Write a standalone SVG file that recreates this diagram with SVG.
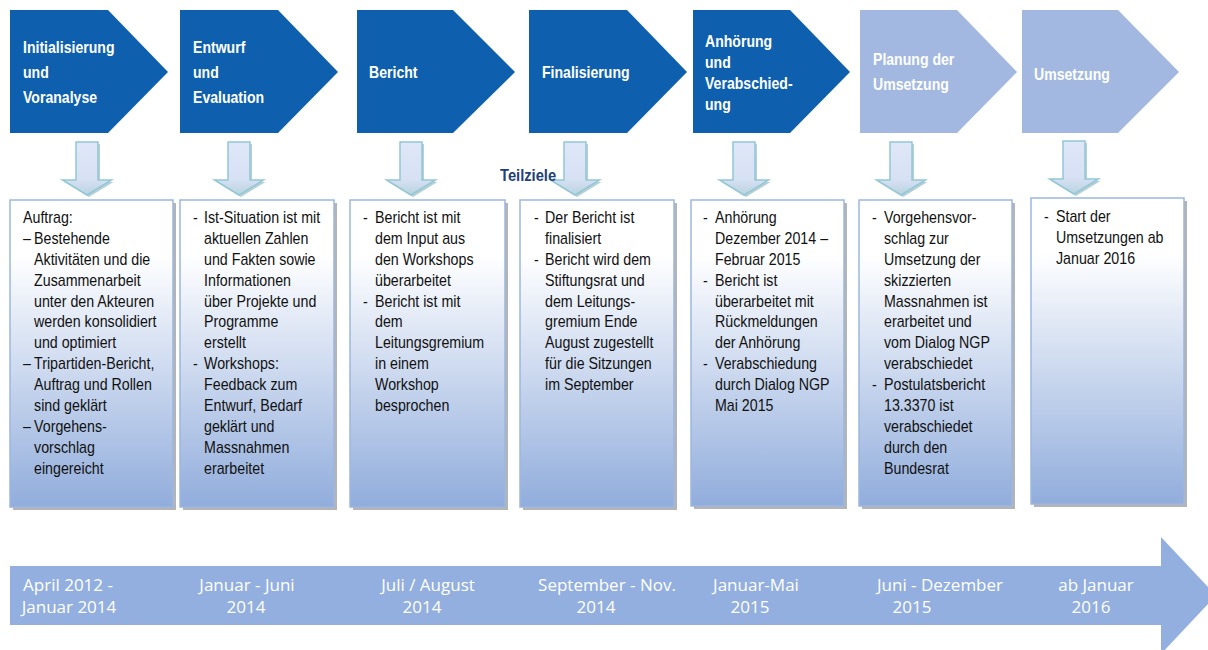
<svg xmlns="http://www.w3.org/2000/svg" width="1208" height="650" viewBox="0 0 1208 650">
<defs>
<linearGradient id="boxGrad" x1="0" y1="0" x2="0" y2="1">
<stop offset="0" stop-color="#ffffff"/>
<stop offset="0.18" stop-color="#ffffff"/>
<stop offset="1" stop-color="#91addc"/>
</linearGradient>
<linearGradient id="arrGrad" x1="0" y1="0" x2="0" y2="1">
<stop offset="0" stop-color="#dfe7f7"/>
<stop offset="0.7" stop-color="#d7e1f4"/>
<stop offset="1" stop-color="#b9d3e0"/>
</linearGradient>
<path id="darr" d="M-11,0 H11 V38 H24.5 L0,53 L-24.5,38 H-11 Z"/>
</defs>
<style>
.dark{fill:#0e5fad}
.light{fill:#a2b8e1}
.ct{font-family:"Liberation Sans",Arial,sans-serif;font-weight:bold;font-size:16px;fill:#ffffff}
.box{fill:url(#boxGrad);stroke:#9cb6df;stroke-width:1.5}
.shadow{fill:#b4b4b4}
.bt{font-family:"Liberation Sans",Arial,sans-serif;font-size:16px;fill:#111111}
.arr{fill:url(#arrGrad);stroke:#93c8d6;stroke-width:1.5}
.arrsh{fill:#a7c3cc;opacity:0.8}
.tl{fill:#93afdf}
.tt{font-family:"Open Sans",sans-serif;font-size:17px;fill:#ffffff;text-anchor:middle}
.tz{font-family:"Liberation Sans",Arial,sans-serif;font-weight:bold;font-size:16px;fill:#1f3f7a}
</style>

<!-- Timeline arrow -->
<g id="timeline">
<path class="tl" d="M10,566 H1161 V537 L1216,595.5 L1161,654 V625 H10 Z"/>
<text class="tt" x="68" y="591">April 2012 -</text>
<text class="tt" x="69" y="613">Januar 2014</text>
<text class="tt" x="247" y="591">Januar - Juni</text>
<text class="tt" x="246" y="613">2014</text>
<text class="tt" x="428" y="591">Juli / August</text>
<text class="tt" x="422" y="613">2014</text>
<text class="tt" x="607" y="591">September - Nov.</text>
<text class="tt" x="596" y="613">2014</text>
<text class="tt" x="756" y="591">Januar-Mai</text>
<text class="tt" x="750" y="613">2015</text>
<text class="tt" x="940" y="591">Juni - Dezember</text>
<text class="tt" x="912" y="613">2015</text>
<text class="tt" x="1096" y="591">ab Januar</text>
<text class="tt" x="1091" y="613">2016</text>
</g>

<!-- Phase chevrons -->
<g id="phase1">
<path class="dark" d="M10,10 H108 L168,72 L108,133 H10 Z"/>
<g transform="translate(23,0) scale(0.88,1)">
<text class="ct" x="0" y="53">Initialisierung</text>
<text class="ct" x="0" y="78">und</text>
<text class="ct" x="0" y="103">Voranalyse</text>
</g>
</g>
<g id="phase2">
<path class="dark" d="M180,10 H278 L338,72 L278,133 H180 Z"/>
<g transform="translate(193,0) scale(0.88,1)">
<text class="ct" x="0" y="53">Entwurf</text>
<text class="ct" x="0" y="78">und</text>
<text class="ct" x="0" y="103">Evaluation</text>
</g>
</g>
<g id="phase3">
<path class="dark" d="M357,10 H453 L515,72 L453,133 H357 Z"/>
<g transform="translate(369,0) scale(0.88,1)">
<text class="ct" x="0" y="78">Bericht</text>
</g>
</g>
<g id="phase4">
<path class="dark" d="M529,10 H627 L687,72 L627,133 H529 Z"/>
<g transform="translate(542,0) scale(0.88,1)">
<text class="ct" x="0" y="78">Finalisierung</text>
</g>
</g>
<g id="phase5">
<path class="dark" d="M693,10 H790 L850,72 L790,133 H693 Z"/>
<g transform="translate(705,0) scale(0.88,1)">
<text class="ct" x="0" y="47">Anhörung</text>
<text class="ct" x="0" y="68">und</text>
<text class="ct" x="0" y="89">Verabschied-</text>
<text class="ct" x="0" y="110">ung</text>
</g>
</g>
<g id="phase6">
<path class="light" d="M860,10 H957 L1017,72 L957,133 H860 Z"/>
<g transform="translate(873,0) scale(0.88,1)">
<text class="ct" x="0" y="65">Planung der</text>
<text class="ct" x="0" y="90">Umsetzung</text>
</g>
</g>
<g id="phase7">
<path class="light" d="M1022,10 H1118 L1179,72 L1118,133 H1022 Z"/>
<g transform="translate(1034,0) scale(0.88,1)">
<text class="ct" x="0" y="80">Umsetzung</text>
</g>
</g>

<!-- Connectors: down arrows -->
<g id="connectors">
<use href="#darr" class="arrsh" transform="translate(89,144)"/>
<use href="#darr" class="arr" transform="translate(87,142)"/>
<use href="#darr" class="arrsh" transform="translate(241,144)"/>
<use href="#darr" class="arr" transform="translate(239,142)"/>
<use href="#darr" class="arrsh" transform="translate(413,144)"/>
<use href="#darr" class="arr" transform="translate(411,142)"/>
<use href="#darr" class="arrsh" transform="translate(577,144)"/>
<use href="#darr" class="arr" transform="translate(575,142)"/>
<use href="#darr" class="arrsh" transform="translate(746,144)"/>
<use href="#darr" class="arr" transform="translate(744,142)"/>
<use href="#darr" class="arrsh" transform="translate(903,144)"/>
<use href="#darr" class="arr" transform="translate(901,142)"/>
<use href="#darr" class="arrsh" transform="translate(1076,143)"/>
<use href="#darr" class="arr" transform="translate(1074,141)"/>
</g>

<g id="label-teilziele">
<g transform="translate(500,0) scale(0.92,1)">
<text class="tz" x="0" y="181">Teilziele</text>
</g>
</g>

<!-- Goal boxes -->
<g id="goal1">
<rect class="shadow" x="13" y="203" width="163" height="307"/>
<rect class="box" x="10" y="200" width="163" height="307"/>
<g transform="translate(23,0) scale(0.89,1)">
<text class="bt" x="0" y="223">Auftrag:</text>
<text class="bt" x="0" y="244">–</text><text class="bt" x="12.4" y="244">Bestehende</text>
<text class="bt" x="12.4" y="265">Aktivitäten und die</text>
<text class="bt" x="12.4" y="286">Zusammenarbeit</text>
<text class="bt" x="12.4" y="307">unter den Akteuren</text>
<text class="bt" x="12.4" y="327">werden konsolidiert</text>
<text class="bt" x="12.4" y="348">und optimiert</text>
<text class="bt" x="0" y="369">–</text><text class="bt" x="12.4" y="369">Tripartiden-Bericht,</text>
<text class="bt" x="12.4" y="390">Auftrag und Rollen</text>
<text class="bt" x="12.4" y="411">sind geklärt</text>
<text class="bt" x="0" y="432">–</text><text class="bt" x="12.4" y="432">Vorgehens-</text>
<text class="bt" x="12.4" y="453">vorschlag</text>
<text class="bt" x="12.4" y="474">eingereicht</text>
</g>
</g>
<g id="goal2">
<rect class="shadow" x="183" y="203" width="154" height="307"/>
<rect class="box" x="180" y="200" width="154" height="307"/>
<g transform="translate(193,0) scale(0.89,1)">
<text class="bt" x="0" y="223">-</text><text class="bt" x="12.4" y="223">Ist-Situation ist mit</text>
<text class="bt" x="12.4" y="244">aktuellen Zahlen</text>
<text class="bt" x="12.4" y="265">und Fakten sowie</text>
<text class="bt" x="12.4" y="286">Informationen</text>
<text class="bt" x="12.4" y="307">über Projekte und</text>
<text class="bt" x="12.4" y="327">Programme</text>
<text class="bt" x="12.4" y="348">erstellt</text>
<text class="bt" x="0" y="369">-</text><text class="bt" x="12.4" y="369">Workshops:</text>
<text class="bt" x="12.4" y="390">Feedback zum</text>
<text class="bt" x="12.4" y="411">Entwurf, Bedarf</text>
<text class="bt" x="12.4" y="432">geklärt und</text>
<text class="bt" x="12.4" y="453">Massnahmen</text>
<text class="bt" x="12.4" y="474">erarbeitet</text>
</g>
</g>
<g id="goal3">
<rect class="shadow" x="353" y="203" width="155" height="307"/>
<rect class="box" x="350" y="200" width="155" height="307"/>
<g transform="translate(363,0) scale(0.89,1)">
<text class="bt" x="0" y="223">-</text><text class="bt" x="13.5" y="223">Bericht ist mit</text>
<text class="bt" x="13.5" y="244">dem Input aus</text>
<text class="bt" x="13.5" y="265">den Workshops</text>
<text class="bt" x="13.5" y="286">überarbeitet</text>
<text class="bt" x="0" y="307">-</text><text class="bt" x="13.5" y="307">Bericht ist mit</text>
<text class="bt" x="13.5" y="327">dem</text>
<text class="bt" x="13.5" y="348">Leitungsgremium</text>
<text class="bt" x="13.5" y="369">in einem</text>
<text class="bt" x="13.5" y="390">Workshop</text>
<text class="bt" x="13.5" y="411">besprochen</text>
</g>
</g>
<g id="goal4">
<rect class="shadow" x="523" y="203" width="154" height="307"/>
<rect class="box" x="520" y="200" width="154" height="307"/>
<g transform="translate(534,0) scale(0.89,1)">
<text class="bt" x="0" y="223">-</text><text class="bt" x="12.4" y="223">Der Bericht ist</text>
<text class="bt" x="12.4" y="244">finalisiert</text>
<text class="bt" x="0" y="265">-</text><text class="bt" x="12.4" y="265">Bericht wird dem</text>
<text class="bt" x="12.4" y="286">Stiftungsrat und</text>
<text class="bt" x="12.4" y="307">dem Leitungs-</text>
<text class="bt" x="12.4" y="327">gremium Ende</text>
<text class="bt" x="12.4" y="348">August zugestellt</text>
<text class="bt" x="12.4" y="369">für die Sitzungen</text>
<text class="bt" x="12.4" y="390">im September</text>
</g>
</g>
<g id="goal5">
<rect class="shadow" x="694" y="203" width="153" height="306"/>
<rect class="box" x="691" y="200" width="153" height="306"/>
<g transform="translate(703,0) scale(0.89,1)">
<text class="bt" x="0" y="223">-</text><text class="bt" x="13.5" y="223">Anhörung</text>
<text class="bt" x="13.5" y="244">Dezember 2014 –</text>
<text class="bt" x="13.5" y="265">Februar 2015</text>
<text class="bt" x="0" y="286">-</text><text class="bt" x="13.5" y="286">Bericht ist</text>
<text class="bt" x="13.5" y="307">überarbeitet mit</text>
<text class="bt" x="13.5" y="327">Rückmeldungen</text>
<text class="bt" x="13.5" y="348">der Anhörung</text>
<text class="bt" x="0" y="369">-</text><text class="bt" x="13.5" y="369">Verabschiedung</text>
<text class="bt" x="13.5" y="390">durch Dialog NGP</text>
<text class="bt" x="13.5" y="411">Mai 2015</text>
</g>
</g>
<g id="goal6">
<rect class="shadow" x="862" y="203" width="153" height="306"/>
<rect class="box" x="859" y="200" width="153" height="306"/>
<g transform="translate(872,0) scale(0.89,1)">
<text class="bt" x="0" y="223">-</text><text class="bt" x="13.5" y="223">Vorgehensvor-</text>
<text class="bt" x="13.5" y="244">schlag zur</text>
<text class="bt" x="13.5" y="265">Umsetzung der</text>
<text class="bt" x="13.5" y="286">skizzierten</text>
<text class="bt" x="13.5" y="307">Massnahmen ist</text>
<text class="bt" x="13.5" y="327">erarbeitet und</text>
<text class="bt" x="13.5" y="348">vom Dialog NGP</text>
<text class="bt" x="13.5" y="369">verabschiedet</text>
<text class="bt" x="0" y="390">-</text><text class="bt" x="13.5" y="390">Postulatsbericht</text>
<text class="bt" x="13.5" y="411">13.3370 ist</text>
<text class="bt" x="13.5" y="432">verabschiedet</text>
<text class="bt" x="13.5" y="453">durch den</text>
<text class="bt" x="13.5" y="474">Bundesrat</text>
</g>
</g>
<g id="goal7">
<rect class="shadow" x="1034" y="201" width="153" height="306"/>
<rect class="box" x="1031" y="198" width="153" height="306"/>
<g transform="translate(1044,0) scale(0.89,1)">
<text class="bt" x="0" y="222">-</text><text class="bt" x="13.5" y="222">Start der</text>
<text class="bt" x="13.5" y="243">Umsetzungen ab</text>
<text class="bt" x="13.5" y="264">Januar 2016</text>
</g>
</g>
</svg>
